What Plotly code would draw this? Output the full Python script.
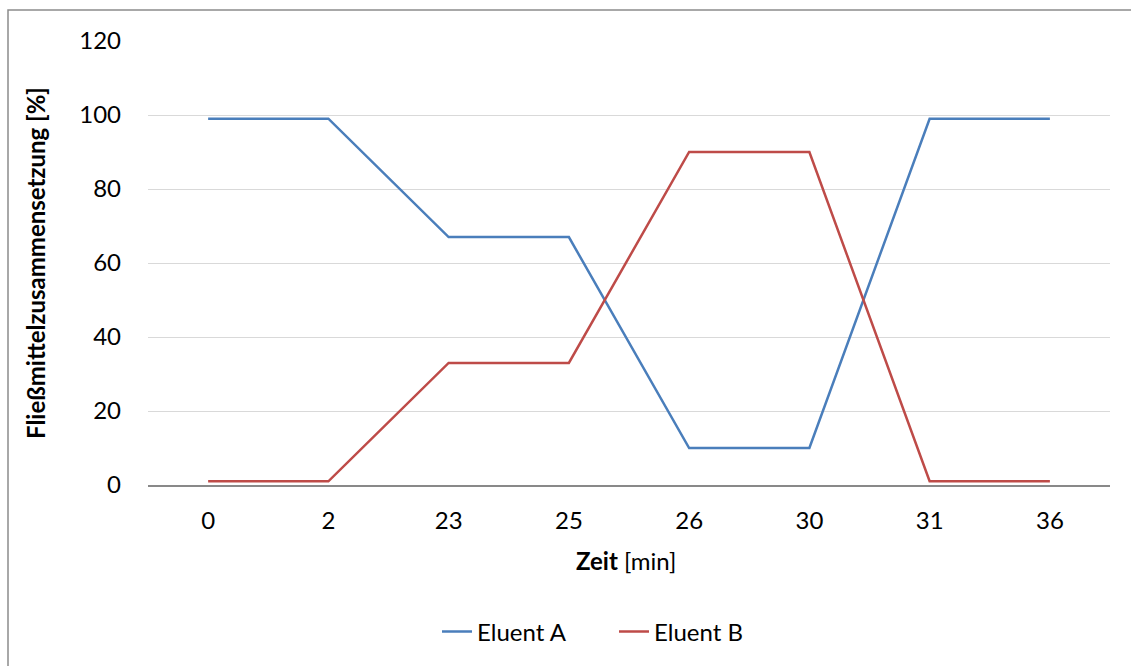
import plotly.graph_objects as go

zeit = ["0", "2", "23", "25", "26", "30", "31", "36"]
eluent_a = [99, 99, 67, 67, 10, 10, 99, 99]
eluent_b = [1, 1, 33, 33, 90, 90, 1, 1]

FONT = "Lato, 'Open Sans', sans-serif"
FS = 24

fig = go.Figure()
fig.add_trace(go.Scatter(x=zeit, y=eluent_a, mode="lines", name="Eluent A",
                         line=dict(color="#4a7ebb", width=2.5)))
fig.add_trace(go.Scatter(x=zeit, y=eluent_b, mode="lines", name="Eluent B",
                         line=dict(color="#be4b48", width=2.5)))

W, H = 1131, 666
L, R, T, B = 148, 21, 41, 181
pw, ph = W - L - R, H - T - B

def px_x(p):
    return (p - L) / pw

def px_y(p):
    return (H - B - p) / ph

fig.update_layout(
    width=W, height=H,
    margin=dict(l=L, r=R, t=T, b=B, pad=0),
    paper_bgcolor="white", plot_bgcolor="white",
    font=dict(family=FONT, size=FS, color="#000000"),
    showlegend=True,
    legend=dict(orientation="h", x=px_x(614), xanchor="center", y=px_y(632), yanchor="middle",
                font=dict(size=FS), tracegroupgap=0, entrywidth=132, entrywidthmode="pixels"),
    xaxis=dict(type="category", range=[-0.5, 7.5], showgrid=False,
               showline=True, linecolor="#898989", linewidth=1.5,
               ticks="", ticklabelstandoff=13, zeroline=False,
               tickfont=dict(size=FS)),
    yaxis=dict(range=[0, 120], dtick=20, tick0=0, showgrid=True,
               gridcolor="#d9d9d9", gridwidth=1.3, showline=False, zeroline=False,
               ticks="", ticklabelstandoff=26, tickfont=dict(size=FS)),
    shapes=[dict(type="rect", xref="paper", yref="paper",
                 x0=px_x(8), x1=px_x(1145), y0=px_y(10), y1=px_y(680),
                 line=dict(color="#8c8c8c", width=1.5), fillcolor="rgba(0,0,0,0)",
                 layer="below")],
    annotations=[
        dict(text="<b>Zeit</b> [min]", xref="paper", yref="paper",
             x=px_x(626), y=px_y(560), xanchor="center", yanchor="middle",
             showarrow=False, font=dict(size=FS)),
        dict(text="<b>Fließmittelzusammensetzung [%]</b>", xref="paper", yref="paper",
             x=px_x(35), y=px_y(263), xanchor="center", yanchor="middle",
             textangle=-90, showarrow=False, font=dict(size=FS)),
    ],
)

fig.write_html("out.html")
